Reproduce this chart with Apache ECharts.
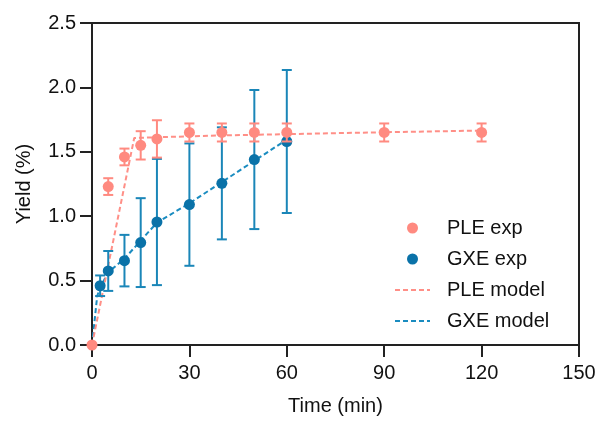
<!DOCTYPE html>
<html>
<head>
<meta charset="utf-8">
<script src="https://cdn.jsdelivr.net/npm/echarts@6/dist/echarts.min.js"></script>
<style>
html,body{margin:0;padding:0;background:#fff;}
#chart{width:599px;height:421px;}
</style>
</head>
<body>
<div id="chart"></div>
<script>
// ---- Data ----
const pleTime = [0, 5, 10, 15, 20, 30, 40, 50, 60, 90, 120];
const pleYield = [0, 1.23, 1.46, 1.55, 1.60, 1.65, 1.65, 1.65, 1.65, 1.65, 1.65];
const pleErr = [0, 0.065, 0.065, 0.11, 0.145, 0.07, 0.07, 0.07, 0.07, 0.07, 0.07];

const gxeTime = [2.5, 5, 10, 15, 20, 30, 40, 50, 60];
const gxeYield = [0.46, 0.575, 0.655, 0.795, 0.955, 1.09, 1.255, 1.44, 1.58];
const gxeErr = [0.08, 0.155, 0.2, 0.345, 0.49, 0.475, 0.435, 0.54, 0.555];

const pleModelTime = [0, 13, 20, 30, 40, 60, 90, 120];
const pleModelYield = [0, 1.607, 1.613, 1.62, 1.627, 1.637, 1.652, 1.665];

const gxeModelTime = [0, 1.6, 2.5, 5, 10, 15, 20, 30, 40, 50, 60];
const gxeModelYield = [0, 0.38, 0.445, 0.565, 0.67, 0.81, 0.95, 1.10, 1.265, 1.43, 1.595];

const xTicks = [0, 30, 60, 90, 120, 150];
const yTicks = [0, 0.5, 1.0, 1.5, 2.0, 2.5];

// ---- Styles ----
const PINK = '#FF8A80';
const PINK_LINE = '#FF8F87';
const BLUE = '#0A72A8';
const BLUE_ERR = '#1A86B8';
const BLUE_LINE = '#1A8CC0';
const FONT = 'Liberation Sans, Arial, Helvetica, sans-serif';

const zip = (a, b) => a.map((v, i) => [v, b[i]]);
const errData = (t, y, e) => t.map((v, i) => [v, y[i] - e[i], y[i] + e[i]]).filter((d, i) => e[i] > 0);

function errRenderer(color) {
  return function (params, api) {
    const x = api.value(0);
    const p1 = api.coord([x, api.value(1)]);
    const p2 = api.coord([x, api.value(2)]);
    const w = 5;
    const st = { stroke: color, lineWidth: 2 };
    return {
      type: 'group',
      children: [
        { type: 'line', shape: { x1: p1[0], y1: p1[1], x2: p2[0], y2: p2[1] }, style: st },
        { type: 'line', shape: { x1: p1[0] - w, y1: p1[1], x2: p1[0] + w, y2: p1[1] }, style: st },
        { type: 'line', shape: { x1: p2[0] - w, y1: p2[1], x2: p2[0] + w, y2: p2[1] }, style: st }
      ]
    };
  };
}

const chart = echarts.init(document.getElementById('chart'), null, { renderer: 'canvas' });
const option = {
  backgroundColor: '#fff',
  animation: false,
  textStyle: { fontFamily: FONT },
  grid: {
    left: 92, right: 20, top: 23, bottom: 74,
    show: true, borderColor: '#222', borderWidth: 2, backgroundColor: 'transparent'
  },
  legend: {
    data: [
      { name: 'PLE exp' },
      { name: 'GXE exp' },
      { name: 'PLE model', itemStyle: { opacity: 0 } },
      { name: 'GXE model', itemStyle: { opacity: 0 } }
    ],
    orient: 'vertical',
    left: 389, top: 213,
    itemWidth: 35, itemHeight: 11, itemGap: 11,
    textStyle: { fontFamily: FONT, fontSize: 20, color: '#111', lineHeight: 20, padding: [0, 0, 0, 12] }
  },
  xAxis: {
    type: 'value', min: 0, max: 150, interval: 30,
    name: 'Time (min)', nameLocation: 'middle', nameGap: 51,
    nameTextStyle: { fontFamily: FONT, fontSize: 20, color: '#111' },
    axisLine: { show: true, lineStyle: { color: '#222', width: 2 } },
    axisTick: { show: true, length: 12, lineStyle: { color: '#222', width: 2 } },
    axisLabel: { fontFamily: FONT, fontSize: 20, color: '#111', margin: 18,
      customValues: xTicks, formatter: v => String(v) },
    splitLine: { show: false }
  },
  yAxis: {
    type: 'value', min: 0, max: 2.5, interval: 0.5,
    name: 'Yield (%)', nameLocation: 'middle', nameGap: 58,
    nameTextStyle: { fontFamily: FONT, fontSize: 20, color: '#111' },
    axisLine: { show: true, lineStyle: { color: '#222', width: 2 } },
    axisTick: { show: true, length: 12, lineStyle: { color: '#222', width: 2 } },
    axisLabel: { fontFamily: FONT, fontSize: 20, color: '#111', margin: 16,
      formatter: v => v.toFixed(1) },
    splitLine: { show: false }
  },
  series: [
    {
      name: 'GXE model', type: 'line', data: zip(gxeModelTime, gxeModelYield),
      symbol: 'none', z: 2,
      lineStyle: { color: BLUE_LINE, width: 2, type: [5, 3] },
      itemStyle: { color: BLUE_LINE }
    },
    {
      name: 'PLE model', type: 'line', data: zip(pleModelTime, pleModelYield),
      symbol: 'none', z: 2,
      lineStyle: { color: PINK_LINE, width: 2, type: [5, 3] },
      itemStyle: { color: PINK_LINE }
    },
    {
      name: 'GXE err', type: 'custom', renderItem: errRenderer(BLUE_ERR),
      data: errData(gxeTime, gxeYield, gxeErr), z: 3, silent: true
    },
    {
      name: 'GXE exp', type: 'scatter', data: zip(gxeTime, gxeYield),
      symbol: 'circle', symbolSize: 11, z: 4,
      itemStyle: { color: BLUE, opacity: 1 }
    },
    {
      name: 'PLE err', type: 'custom', renderItem: errRenderer(PINK),
      data: errData(pleTime, pleYield, pleErr), z: 5, silent: true
    },
    {
      name: 'PLE exp', type: 'scatter', data: zip(pleTime, pleYield),
      symbol: 'circle', symbolSize: 11, z: 6,
      itemStyle: { color: PINK, opacity: 1 }
    }
  ]
};
chart.setOption(option);
</script>
</body>
</html>
